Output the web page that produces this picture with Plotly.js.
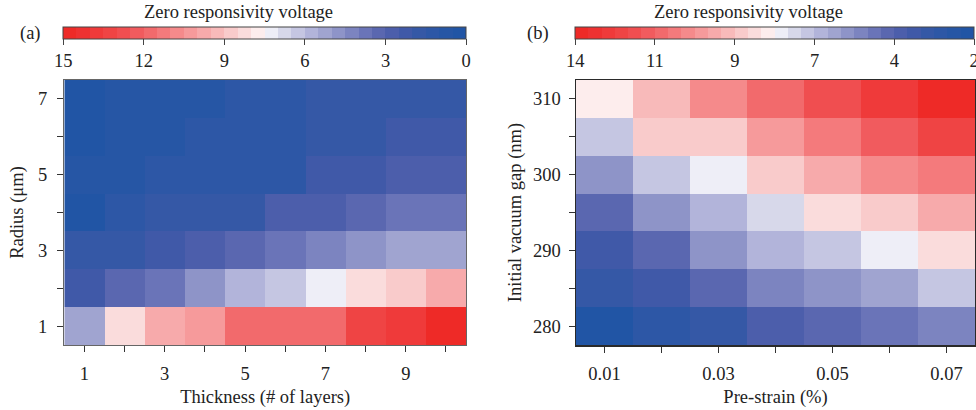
<!DOCTYPE html>
<html>
<head>
<meta charset="utf-8">
<script src="https://cdn.plot.ly/plotly-3.0.1.min.js"></script>
<style>html,body{margin:0;padding:0;background:#fff;}#chart{width:976px;height:410px;}</style>
</head>
<body>
<div id="chart"></div>
<script>
// ---- Data: panel (a) ----
const thickness = [1, 2, 3, 4, 5, 6, 7, 8, 9, 10];
const radius = [1, 2, 3, 4, 5, 6, 7];
const voltageA_r1 = [5.2, 8.2, 9.8, 10.2, 11.8, 11.8, 11.7, 13.2, 13.8, 14.8];
const voltageA_r2 = [2.2, 3.2, 3.8, 4.7, 5.8, 6.2, 7.3, 8.2, 8.8, 9.7];
const voltageA_r3 = [1.7, 1.8, 2.2, 2.7, 3.2, 3.7, 4.2, 4.7, 5.2, 5.3];
const voltageA_r4 = [0.3, 1.2, 1.7, 1.7, 1.8, 2.7, 2.8, 3.3, 3.7, 3.8];
const voltageA_r5 = [0.7, 0.8, 1.2, 1.2, 1.3, 1.4, 2.2, 2.3, 2.7, 2.8];
const voltageA_r6 = [0.2, 0.7, 0.8, 1.2, 1.2, 1.3, 1.7, 1.8, 2.2, 2.3];
const voltageA_r7 = [0.3, 0.7, 0.7, 0.8, 1.2, 1.3, 1.7, 1.7, 1.8, 1.8];
const xTicksA = ["1", "", "3", "", "5", "", "7", "", "9", ""];
const yTicksA = ["1", "", "3", "", "5", "", "7"];
const cbTicksA = [15, 12, 9, 6, 3, 0];

// ---- Data: panel (b) ----
const preStrain = [0.01, 0.02, 0.03, 0.04, 0.05, 0.06, 0.07];
const vacuumGap = [280, 285, 290, 295, 300, 305, 310];
const voltageB_g280 = [2.2, 3.0, 3.4, 4.2, 4.6, 5.0, 5.4];
const voltageB_g285 = [3.4, 3.8, 4.6, 5.4, 5.8, 6.2, 7.0];
const voltageB_g290 = [3.8, 4.6, 5.8, 6.6, 7.0, 7.8, 8.6];
const voltageB_g295 = [4.6, 5.8, 6.6, 7.4, 8.6, 9.0, 9.8];
const voltageB_g300 = [5.8, 7.0, 7.8, 9.0, 9.8, 10.6, 11.0];
const voltageB_g305 = [7.0, 9.0, 9.0, 10.2, 11.0, 11.8, 12.6];
const voltageB_g310 = [8.2, 9.4, 10.6, 11.4, 12.2, 13.0, 13.8];
const xTicksB = ["0.01", "", "0.03", "", "0.05", "", "0.07"];
const yTicksB = ["280", "", "290", "", "300", "", "310"];
const cbTickValsB = [14, 11.6, 9.2, 6.8, 4.4, 2.0001];
const cbTicksB = ["14", "11", "9", "7", "4", "2"];
const cbRangeB = [2, 14];

// ---- Style ----
const binColors = ['#ee2a27','#ee3131','#ef3a3a','#ef4444','#f04e50','#f15b5e','#f26a6c','#f47a7c','#f58a8b','#f69a9b','#f7aaab','#f8baba','#f9cbcb','#fadcdc','#fdeded','#eeeef7','#d7d8ea','#c5c6e2','#b2b4da','#a0a4d0','#8e94c8','#7c84c0','#6a74b8','#5a67b0','#4c5eab','#4059a8','#3558a6','#2d57a6','#2656a5','#2155a5'];
const cscale = [];
binColors.forEach((c, i) => {
  cscale.push([i / binColors.length, c]);
  cscale.push([(i + 1) / binColors.length, c]);
});

const FONT = 'Liberation Serif';
const TXT = '#222';
const FS = 18.5;
const neg = arr => arr.map(r => r.map(v => -v));

const zA = [voltageA_r1, voltageA_r2, voltageA_r3, voltageA_r4, voltageA_r5, voltageA_r6, voltageA_r7];
const zB = [voltageB_g280, voltageB_g285, voltageB_g290, voltageB_g295, voltageB_g300, voltageB_g305, voltageB_g310];

const ml = 64, mr = 1, mt = 80, mb = 65, W = 976, H = 410;
const pw = W - ml - mr, ph = H - mt - mb;
const px2x = p => (p - ml) / pw;
const px2y = p => (H - mb - p) / ph;

const common = {
  type: 'heatmap', colorscale: cscale, zsmooth: false, hoverinfo: 'skip'
};

const cbCommon = {
  orientation: 'h', thickness: 12, thicknessmode: 'pixels', lenmode: 'pixels',
  xanchor: 'center', yanchor: 'top', xpad: 0, ypad: 0,
  outlinecolor: '#444', outlinewidth: 1,
  ticks: 'outside', ticklen: 6, tickcolor: '#444', tickwidth: 1,
  ticklabeloverflow: 'allow',
  tickfont: {family: FONT, size: FS, color: TXT}, tickmode: 'array'
};

const traceA = Object.assign({}, common, {
  x: thickness, y: radius, z: neg(zA), zmin: -15, zmax: 0,
  xaxis: 'x', yaxis: 'y',
  colorbar: Object.assign({}, cbCommon, {
    x: px2x((63.3 + 466) / 2), y: px2y(27.3), len: 403,
    tickvals: cbTicksA.map(v => -v), ticktext: cbTicksA.map(String)
  })
});

const traceB = Object.assign({}, common, {
  x: preStrain, y: vacuumGap, z: neg(zB), zmin: -cbRangeB[1], zmax: -cbRangeB[0],
  xaxis: 'x2', yaxis: 'y2',
  colorbar: Object.assign({}, cbCommon, {
    x: px2x((575.3 + 974) / 2), y: px2y(27.3), len: 399,
    tickvals: cbTickValsB.map(v => -v), ticktext: cbTicksB
  })
});

const axBase = {
  showgrid: false, zeroline: false, ticks: 'outside', ticklen: 6, tickwidth: 1,
  tickcolor: '#333', showline: true, mirror: true,
  tickfont: {family: FONT, size: FS, color: TXT}, tickmode: 'array'
};

const layout = {
  width: W, height: H, margin: {l: ml, r: mr, t: mt, b: mb},
  paper_bgcolor: '#fff', plot_bgcolor: '#fff', showlegend: false,
  font: {family: FONT, color: TXT},
  xaxis: Object.assign({}, axBase, {
    domain: [px2x(64.3), px2x(466)], range: [0.5, 10.5], anchor: 'y',
    tickvals: thickness, ticktext: xTicksA, linecolor: '#666', linewidth: 1.3,
    ticklabelstandoff: 5,
    title: {text: 'Thickness (# of layers)', font: {family: FONT, size: FS, color: TXT}, standoff: 7}
  }),
  yaxis: Object.assign({}, axBase, {
    domain: [0, 1], range: [0.5, 7.5], anchor: 'x',
    tickvals: radius, ticktext: yTicksA, linecolor: '#666', linewidth: 1.3,
    ticklabelstandoff: 6,
    title: {text: 'Radius (μm)', font: {family: FONT, size: FS, color: TXT}, standoff: 9}
  }),
  xaxis2: Object.assign({}, axBase, {
    domain: [px2x(576), 1], range: [0.005, 0.075], anchor: 'y2',
    tickvals: preStrain, ticktext: xTicksB, linecolor: '#2a2a2a', linewidth: 1.5,
    ticklabelstandoff: 5,
    title: {text: 'Pre-strain (%)', font: {family: FONT, size: FS, color: TXT}, standoff: 7}
  }),
  yaxis2: Object.assign({}, axBase, {
    domain: [0, 1], range: [277.5, 312.5], anchor: 'x2',
    tickvals: vacuumGap, ticktext: yTicksB, linecolor: '#2a2a2a', linewidth: 1.5,
    ticklabelstandoff: 4,
    title: {text: 'Initial vacuum gap (nm)', font: {family: FONT, size: FS, color: TXT}, standoff: 6}
  }),
  annotations: [
    {text: 'Zero responsivity voltage', xref: 'paper', yref: 'paper', x: px2x(238), y: px2y(12),
     showarrow: false, xanchor: 'center', yanchor: 'middle', font: {family: FONT, size: FS, color: TXT}},
    {text: 'Zero responsivity voltage', xref: 'paper', yref: 'paper', x: px2x(748), y: px2y(12),
     showarrow: false, xanchor: 'center', yanchor: 'middle', font: {family: FONT, size: FS, color: TXT}},
    {text: '(a)', xref: 'paper', yref: 'paper', x: px2x(30), y: px2y(33),
     showarrow: false, xanchor: 'center', yanchor: 'middle', font: {family: FONT, size: FS, color: TXT}},
    {text: '(b)', xref: 'paper', yref: 'paper', x: px2x(538), y: px2y(33),
     showarrow: false, xanchor: 'center', yanchor: 'middle', font: {family: FONT, size: FS, color: TXT}}
  ]
};

Plotly.newPlot('chart', [traceA, traceB], layout, {staticPlot: true, displayModeBar: false});
</script>
</body>
</html>
